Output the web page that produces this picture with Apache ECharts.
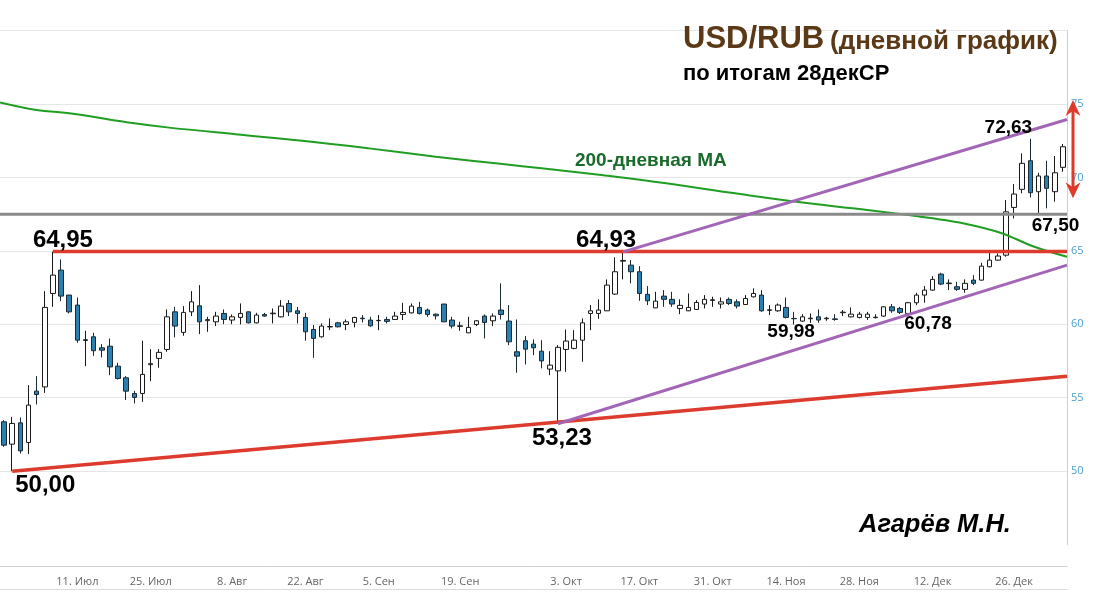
<!DOCTYPE html>
<html><head><meta charset="utf-8">
<script src="https://cdn.jsdelivr.net/npm/echarts@6/dist/echarts.min.js"></script>
<style>html,body{margin:0;padding:0;background:#fff}#c{width:1101px;height:592px}</style>
</head><body><div id="c"></div>
<script>
// ---- data ----
const openP = [53.36,51.84,53.29,51.95,55.45,55.74,62.10,63.69,61.99,61.31,
58.90,59.15,58.40,58.51,57.15,56.36,55.29,55.29,57.25,57.68,
58.29,60.85,59.45,60.85,61.26,60.25,60.17,60.74,60.29,60.47,
60.85,60.10,60.67,60.72,60.51,61.42,60.92,60.47,59.65,59.15,
59.82,60.10,59.99,60.13,60.42,60.29,60.25,60.33,60.33,60.67,
60.78,61.15,60.97,60.69,61.38,60.29,59.86,59.42,59.99,60.56,
60.24,60.97,60.22,58.13,58.88,58.65,58.17,56.95,56.83,58.29,
58.36,58.92,60.74,60.74,60.92,62.06,64.30,64.03,63.58,62.04,
61.12,61.92,61.70,61.08,60.92,61.01,61.38,61.63,61.38,61.70,
61.53,61.35,61.87,61.99,60.95,60.92,61.15,60.40,60.22,60.38,
60.51,60.38,60.37,60.79,60.51,60.47,60.47,60.49,60.56,61.19,
61.08,60.74,61.47,61.99,62.33,63.42,62.77,62.56,62.38,63.01,
63.01,63.92,64.37,64.71,67.96,69.19,71.14,69.03,70.10,69.03,
70.69];
const closeP = [51.77,53.25,51.38,54.50,55.22,61.15,63.35,61.92,60.85,58.92,
58.95,58.20,58.24,57.10,56.31,55.45,55.02,56.59,57.32,58.09,
60.51,59.88,60.81,61.53,60.17,60.32,60.56,60.33,60.51,60.74,
60.10,60.63,60.56,60.76,61.24,60.85,60.74,59.49,59.04,59.88,
59.85,59.83,60.17,60.47,60.38,59.90,60.27,60.20,60.56,60.81,
61.24,60.74,60.67,60.58,60.17,59.88,59.90,59.79,60.24,60.13,
60.56,60.67,58.81,57.83,58.31,58.40,57.51,57.22,58.43,58.86,
58.92,60.10,60.92,60.97,62.67,63.58,64.35,63.58,62.10,61.60,
61.58,61.70,61.38,61.29,61.15,61.49,61.70,61.67,61.53,61.42,
61.24,61.76,62.10,60.92,60.99,61.31,60.47,60.38,60.51,60.42,
60.29,60.42,60.33,60.83,60.69,60.69,60.69,60.45,61.19,60.92,
60.81,61.47,61.99,62.33,63.06,62.74,62.81,62.38,62.79,62.79,
63.96,64.37,64.65,67.66,68.87,70.96,68.96,70.10,69.26,70.32,
72.09];
const lowP = [51.66,50.00,51.20,51.16,54.54,55.33,61.19,61.58,60.74,58.74,
57.15,57.85,57.74,56.54,56.24,54.84,54.61,54.72,56.13,57.04,
58.13,59.11,59.22,60.56,59.33,59.49,59.88,60.01,60.01,59.99,
60.06,60.06,60.51,60.06,60.47,60.56,60.06,58.88,57.72,59.10,
59.60,59.79,59.60,59.79,60.13,59.83,59.60,60.06,60.29,60.29,
60.74,60.67,60.51,60.33,60.15,59.72,59.56,59.40,59.88,59.04,
59.88,60.33,58.58,56.70,57.27,57.90,57.00,56.54,53.23,56.76,
58.30,57.45,59.60,60.37,60.90,62.00,63.06,62.79,61.60,61.31,
61.10,61.19,61.19,60.69,60.90,61.00,61.08,61.19,61.08,61.31,
61.08,61.31,61.83,60.85,60.63,60.85,60.40,59.98,60.17,60.10,
60.10,60.24,60.24,60.56,60.47,60.40,60.30,60.40,60.51,60.78,
60.70,60.63,61.31,61.47,62.29,62.67,62.33,62.28,62.15,62.67,
62.97,63.88,64.33,64.60,67.21,68.92,68.64,67.50,67.90,68.35,
70.39];
const highP = [53.47,53.70,53.66,55.86,56.47,62.26,64.95,64.42,62.00,61.83,
59.56,59.42,58.65,59.04,57.38,56.47,55.47,58.88,58.31,58.31,
61.01,61.19,61.24,62.26,62.67,60.51,60.85,61.01,60.67,61.42,
60.88,60.78,60.78,61.08,61.65,61.65,61.19,60.78,59.95,60.06,
60.40,60.17,60.33,60.51,60.63,60.51,60.63,60.51,60.85,61.47,
61.42,61.53,61.08,60.74,61.40,60.51,60.17,60.51,60.29,60.67,
60.74,62.79,61.31,60.33,59.20,58.97,58.92,58.17,58.58,59.65,
59.60,60.40,61.31,61.70,63.06,64.56,64.93,64.37,63.96,62.60,
62.21,62.33,62.21,61.70,62.10,61.65,61.99,61.88,61.83,61.83,
61.70,61.99,62.45,62.33,61.31,61.42,61.83,60.85,60.69,60.74,
61.01,60.51,60.69,60.97,61.15,60.85,60.85,60.69,61.24,61.38,
61.19,61.53,62.15,62.60,63.28,63.51,63.06,62.90,63.06,63.35,
64.19,64.87,64.83,68.46,69.55,71.64,72.63,70.32,71.14,71.46,
72.28];
const tickIndex = [9,18,28,37,46,56,69,78,87,96,105,114,124];
const tickLabels = ['11. Июл','25. Июл','8. Авг','22. Авг','5. Сен','19. Сен','3. Окт','17. Окт','31. Окт','14. Ноя','28. Ноя','12. Дек','26. Дек'];
const yTickValues = [50,55,60,65,70,75];
// 200-day moving average, read at points along the curve [candle index, value]
const ma200 = [[-0.5,75.10],[4,74.59],[8,74.37],[16,73.69],[20,73.41],[28.4,72.94],[36.6,72.50],[44.8,71.98],[53,71.41],[61.2,70.91],[66,70.62],[78.3,69.82],[90.6,68.85],[98.8,68.24],[105,67.85],[109,67.58],[113.5,67.25],[118,66.85],[122.4,66.22],[126.4,65.30],[130.5,64.60]];
// trend / level lines [candle index, value]
const level6495 = [[6,64.95],[130.5,64.95]];
const level6750 = [[-0.5,67.50],[130.5,67.50]];
const redSupport = [[1,50.00],[130.5,56.47]];
const purpleLow = [[68,53.23],[130.5,64.03]];
const purpleHigh = [[76,64.93],[130.5,73.95]];
const arrowRange = [75.27, 68.58];
// annotations [candle index, value, text]
const notes = [[6,64.95,'64,95'],[1,50.00,'50,00'],[76,64.93,'64,93'],[68,53.23,'53,23'],[97,59.98,'59,98'],[110,60.78,'60,78'],[126,72.63,'72,63'],[127,67.50,'67,50'],[78.3,69.82,'200-дневная МА']];
const titleMain = 'USD/RUB', titleSub = '(дневной график)', titleLine2 = 'по итогам 28декСР', author = 'Агарёв М.Н.';

// ---- chart ----
const N = openP.length;
const cats = openP.map((_, i) => String(i));
const tickMap = {};
tickIndex.forEach((k, j) => { tickMap[k] = tickLabels[j]; });
const isTick = (i) => tickMap[i] !== undefined;
const FONT = 'Liberation Sans, Arial, sans-serif';

const noteStyle = [
  {offset:[10,-11.5], fontSize:24},
  {offset:[33,14], fontSize:24},
  {offset:[-17,-12], fontSize:24},
  {offset:[4,15], fontSize:24},
  {offset:[-3,7.5], fontSize:19},
  {offset:[28,10.5], fontSize:19},
  {offset:[-22,-11.5], fontSize:19},
  {offset:[17,12], fontSize:19},
  {offset:[9,-19], fontSize:19, color:'#1a6a2c'}
];

const chart = echarts.init(document.getElementById('c'));
const lineSeries = (data, color, width, z, smooth) => ({
  type:'line', xAxisIndex:1, yAxisIndex:0, data, showSymbol:false, silent:true,
  smooth: smooth || false, lineStyle:{color, width}, z
});

chart.setOption({
  animation:false,
  backgroundColor:'#ffffff',
  title:[
    {text:titleMain, left:683, top:24, padding:0, textStyle:{fontFamily:FONT, fontWeight:'bold', fontSize:31, color:'#5b3816'}},
    {text:titleSub, left:830, top:29, padding:0, textStyle:{fontFamily:FONT, fontWeight:'bold', fontSize:26, color:'#5b3816'}},
    {text:titleLine2, left:683, top:63, padding:0, textStyle:{fontFamily:FONT, fontWeight:'bold', fontSize:22, color:'#000'}},
    {text:author, left:859, top:512, padding:0, textStyle:{fontFamily:FONT, fontWeight:'bold', fontStyle:'italic', fontSize:25.5, color:'#000'}}
  ],
  grid:{left:-3, right:34, top:30.6, bottom:47.4},
  xAxis:[
    {type:'category', data:cats, boundaryGap:true, offset:22,
     axisLine:{onZero:false, lineStyle:{color:'#cfcfcf'}},
     axisTick:{interval:(i)=>isTick(i), alignWithLabel:true, length:9, lineStyle:{color:'#cfcfcf'}},
     axisLabel:{interval:(i)=>isTick(i), formatter:(v)=>tickMap[+v]||'', color:'#666', fontSize:11, fontFamily:'Open Sans, sans-serif', margin:10},
     splitLine:{show:false}},
    {type:'value', min:-0.5, max:N-0.5, show:false},
    {type:'value', min:0, max:1, position:'bottom', offset:44.5,
     axisLine:{show:true, onZero:false, lineStyle:{color:'#dcdcdc'}}, axisTick:{show:false}, axisLabel:{show:false}, splitLine:{show:false}}
  ],
  yAxis:{type:'value', position:'right', min:45, max:80, interval:5,
    axisLine:{show:true, onZero:false, lineStyle:{color:'#cfcfcf'}},
    axisTick:{show:false},
    axisLabel:{color:'#4aa0d0', fontSize:11, fontFamily:'Open Sans, sans-serif', margin:4,
      formatter:(v)=> yTickValues.indexOf(v) >= 0 ? String(v) : ''},
    splitLine:{show:true, lineStyle:{color:['rgba(0,0,0,0)','#e6e6e6','#e6e6e6','#e6e6e6','#e6e6e6','#e6e6e6','#e6e6e6','#e6e6e6']}}
  },
  series:[
    {type:'candlestick', xAxisIndex:0, yAxisIndex:0, barWidth:5, z:2,
     data: openP.map((o, i) => [o, closeP[i], lowP[i], highP[i]]),
     itemStyle:{color:'#ffffff', color0:'#2a80b0', borderColor:'#1a1a1a', borderColor0:'#1a2a35', borderWidth:1}},
    lineSeries(ma200, '#1f9e22', 2, 3, 0.4),
    lineSeries(level6750, '#8a8a8a', 3, 3),
    lineSeries(level6495, '#dd3b2e', 3.5, 4),
    lineSeries(redSupport, '#dd3b2e', 3.5, 4),
    lineSeries(purpleLow, '#a266b6', 3, 4),
    lineSeries(purpleHigh, '#a266b6', 3, 4),
    {type:'scatter', xAxisIndex:1, yAxisIndex:0, symbolSize:1, itemStyle:{color:'rgba(255,255,255,0)', opacity:1}, z:6, silent:true,
     data: notes.map((n, k) => ({
       value:[n[0], n[1]],
       label:{show:true, position:'inside', formatter:n[2], offset:noteStyle[k].offset,
         fontFamily:FONT, fontWeight:'bold', fontSize:noteStyle[k].fontSize, color:noteStyle[k].color || '#000',
         opacity:1, textBorderWidth:0, textBorderColor:'transparent', align:'center', verticalAlign:'middle'}
     }))}
  ]
});

// double-headed red arrow to the right of the plot
const ax = chart.convertToPixel({xAxisIndex:1}, N - 0.5) + 6;
const ay1 = chart.convertToPixel({yAxisIndex:0}, arrowRange[0]);
const ay2 = chart.convertToPixel({yAxisIndex:0}, arrowRange[1]);
const red = '#e0392b';
chart.setOption({graphic:[
  {type:'line', z:100, shape:{x1:ax, y1:ay1+8, x2:ax, y2:ay2-8}, style:{stroke:red, lineWidth:3}},
  {type:'polygon', z:100, shape:{points:[[ax,ay1],[ax+7.5,ay1+16],[ax,ay1+11],[ax-7.5,ay1+16]]}, style:{fill:red}},
  {type:'polygon', z:100, shape:{points:[[ax,ay2],[ax+7.5,ay2-16],[ax,ay2-11],[ax-7.5,ay2-16]]}, style:{fill:red}}
]});
</script>
</body></html>
